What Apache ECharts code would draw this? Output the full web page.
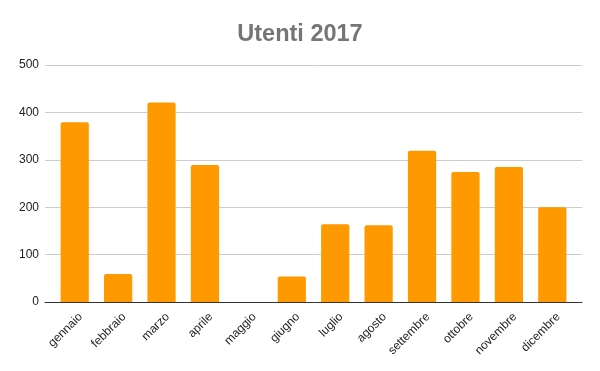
<!DOCTYPE html>
<html>
<head>
<meta charset="utf-8">
<script src="https://cdn.jsdelivr.net/npm/echarts@6/dist/echarts.min.js"></script>
<style>html,body{margin:0;padding:0;background:#fff}#c{width:600px;height:371px}</style>
</head>
<body>
<div id="c"></div>
<script>
var categories = ['gennaio','febbraio','marzo','aprile','maggio','giugno','luglio','agosto','settembre','ottobre','novembre','dicembre'];
var users = [379, 59, 421, 289, 0, 54, 164, 162, 319, 274, 285, 200];
var yTicks = [0, 100, 200, 300, 400, 500];

var chart = echarts.init(document.getElementById('c'), null, {renderer: 'canvas'});
var font = 'Arial, "Liberation Sans", sans-serif';
var yMin = yTicks[0], yMax = yTicks[yTicks.length - 1];
chart.setOption({
  animation: false,
  backgroundColor: '#fff',
  title: {
    text: 'Utenti 2017',
    left: 'center',
    top: 18,
    textStyle: {fontFamily: font, fontSize: 23.5, fontWeight: 'bold', color: '#757575'}
  },
  grid: [
    {left: 45, right: 18, top: 65, bottom: 69},
    {left: 53, right: 26, top: 65, bottom: 69},
    {left: 59, right: 20, top: 65, bottom: 69}
  ],
  xAxis: [
    {type: 'category', gridIndex: 0, data: categories,
     axisLine: {show: true, lineStyle: {color: '#333', width: 1}},
     axisTick: {show: false}, axisLabel: {show: false}, splitLine: {show: false}},
    {type: 'category', gridIndex: 1, data: categories,
     axisLine: {show: false}, axisTick: {show: false}, axisLabel: {show: false}},
    {type: 'category', gridIndex: 2, data: categories,
     axisLine: {show: false}, axisTick: {show: false},
     axisLabel: {interval: 0, rotate: 45, margin: 13, fontFamily: font, fontSize: 12, color: '#222'}}
  ],
  yAxis: [
    {type: 'value', gridIndex: 0, min: yMin, max: yMax, interval: 100,
     axisLine: {show: false}, axisTick: {show: false},
     axisLabel: {margin: 6, fontFamily: font, fontSize: 12, color: '#222'},
     splitLine: {lineStyle: {color: '#cccccc', width: 1}}},
    {type: 'value', gridIndex: 1, min: yMin, max: yMax, interval: 100,
     show: false, splitLine: {show: false}},
    {type: 'value', gridIndex: 2, min: yMin, max: yMax, interval: 100,
     show: false, splitLine: {show: false}}
  ],
  series: [{
    type: 'bar',
    xAxisIndex: 1, yAxisIndex: 1,
    data: users,
    barCategoryGap: '35%',
    itemStyle: {color: '#ff9900', borderRadius: [2, 2, 0, 0]}
  }]
});
</script>
</body>
</html>
